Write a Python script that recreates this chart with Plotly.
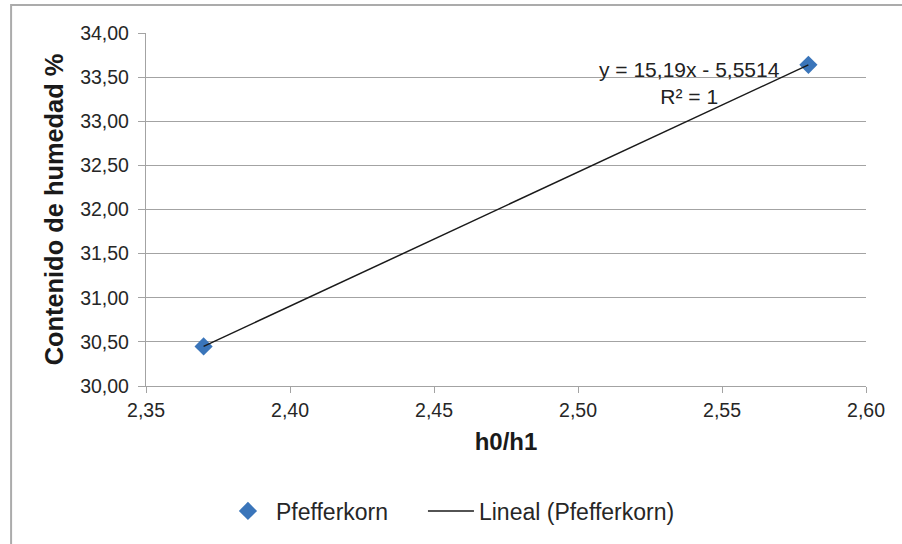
import plotly.graph_objects as go

# Measured points (ratio h0/h1 vs. moisture content %)
h_ratio = [2.37, 2.58]
humedad = [30.449, 33.639]

# Linear fit coefficients shown on the chart
slope = 15.19
intercept = -5.5514
trend_label = "y = 15,19x - 5,5514<br>R² = 1"

series_name = "Pfefferkorn"
trend_name = "Lineal (Pfefferkorn)"

x_ticks = [2.35, 2.40, 2.45, 2.50, 2.55, 2.60]
y_ticks = [30.0, 30.5, 31.0, 31.5, 32.0, 32.5, 33.0, 33.5, 34.0]

trend_y = [slope * x + intercept for x in h_ratio]

W, H = 902, 544
L, R, T, B = 146, 35.5, 33, 158
plot_w = W - L - R
plot_h = H - T - B

grid_col = "#a3a3a3"
font_main = "Liberation Sans, Arial, sans-serif"

fig = go.Figure()
fig.add_trace(go.Scatter(
    x=h_ratio, y=humedad, mode="markers", name=series_name,
    marker=dict(symbol="diamond", size=14, color="#3a75ba", line=dict(width=0)),
    legendwidth=142,
))
fig.add_trace(go.Scatter(
    x=h_ratio, y=trend_y, mode="lines", name=trend_name,
    line=dict(color="#1a1a1a", width=1.5),
))

# Outer chart frame (only left and top edges fall inside the page)
fig.add_shape(type="rect", xref="paper", yref="paper",
              x0=(11 - L) / plot_w, x1=3,
              y0=-3, y1=(H - B - 5) / plot_h,
              line=dict(color="#ababab", width=2), layer="below")

fig.add_annotation(
    x=2.5388, y=33.431, xref="x", yref="y", text=trend_label,
    showarrow=False, align="center",
    font=dict(family=font_main, size=21, color="#222222"),
)

axis_common = dict(
    showline=True, linecolor=grid_col, linewidth=1.3,
    ticks="outside", tickcolor=grid_col, tickwidth=1.3,
    tickformat=".2f", zeroline=False,
    tickfont=dict(family=font_main, size=19.5, color="#262626"),
)

fig.update_xaxes(
    range=[2.35, 2.60], tickvals=x_ticks, ticklen=6, showgrid=False,
    title=dict(text="<b>h0/h1</b>", standoff=13,
               font=dict(family=font_main, size=24, color="#1a1a1a")),
    **axis_common,
)
fig.update_yaxes(
    range=[30, 34], tickvals=y_ticks, ticklen=7, ticklabelstandoff=5,
    showgrid=True, gridcolor=grid_col, gridwidth=1.3,
    title=dict(text="<b>Contenido de humedad %</b>", standoff=9,
               font=dict(family=font_main, size=25.4, color="#1a1a1a")),
    **axis_common,
)

fig.update_layout(
    width=W, height=H,
    margin=dict(l=L, r=R, t=T, b=B, autoexpand=False),
    paper_bgcolor="white", plot_bgcolor="white",
    separators=",.",
    showlegend=True,
    legend=dict(orientation="h", x=(220 - L) / plot_w, xanchor="left",
                y=-(511 - (H - B)) / plot_h, yanchor="middle",
                font=dict(family=font_main, size=23, color="#262626"),
                itemwidth=46, bgcolor="rgba(0,0,0,0)"),
)

fig.write_html("out.html")
